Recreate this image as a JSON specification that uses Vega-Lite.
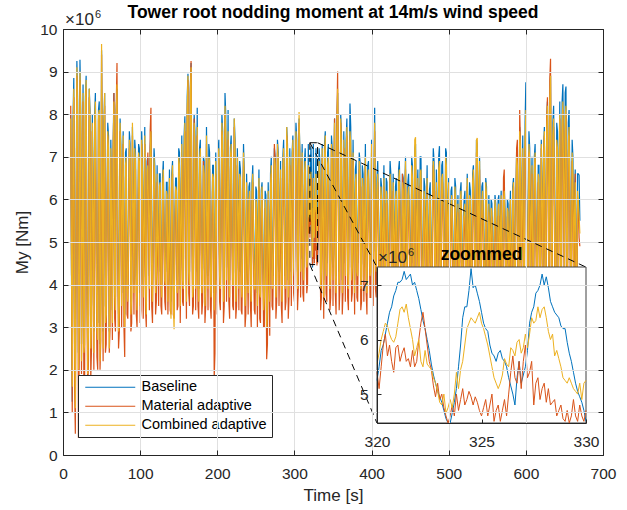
{
"$schema": "https://vega.github.io/schema/vega-lite/v6.json",
"width": 540, "height": 426,
"autosize": {"type": "none"},
"padding": {"left": 63, "top": 29, "right": 24, "bottom": 55},
"background": "white",
"config": {"font": "Liberation Sans", "view": {"stroke": null}},
"title": {"text": "Tower root nodding moment at 14m/s wind speed", "fontSize": 17.5, "fontWeight": "bold", "color": "#000000", "anchor": "middle", "frame": "group", "offset": -12},
"datasets": {
"ts": [
{"t":10,"b":8.0,"m":8.2,"c":7.9},{"t":11,"b":4.2,"m":4.6,"c":4.5},{"t":12,"b":1.25,"m":1.0,"c":1.6},{"t":13,"b":7.9,"m":7.2,"c":7.6},{"t":14,"b":8.85,"m":8.4,"c":8.6},{"t":15,"b":3.0,"m":1.6,"c":2.6},{"t":16,"b":1.8,"m":0.5,"c":1.1},{"t":17,"b":5.8,"m":4.8,"c":5.4},{"t":18,"b":9.25,"m":8.9,"c":9.1},{"t":19,"b":8.3,"m":7.7,"c":8.0},
{"t":20,"b":2.4,"m":0.4,"c":2.0},{"t":21,"b":3.4,"m":2.2,"c":3.0},{"t":22,"b":9.28,"m":8.8,"c":9.0},{"t":23,"b":8.1,"m":7.5,"c":7.8},{"t":24,"b":2.6,"m":1.9,"c":2.2},{"t":25,"b":5.6,"m":4.6,"c":5.2},{"t":26,"b":8.7,"m":8.3,"c":8.5},{"t":27,"b":2.8,"m":1.7,"c":2.4},{"t":28,"b":3.0,"m":1.5,"c":2.6},{"t":29,"b":8.4,"m":7.9,"c":8.2},
{"t":30,"b":8.9,"m":8.6,"c":8.8},{"t":31,"b":5.0,"m":3.9,"c":4.6},{"t":32,"b":2.3,"m":1.4,"c":1.9},{"t":33,"b":3.3,"m":2.2,"c":2.9},{"t":34,"b":8.6,"m":8.4,"c":8.6},{"t":35,"b":8.1,"m":7.6,"c":7.9},{"t":36,"b":2.8,"m":1.8,"c":2.5},{"t":37,"b":3.6,"m":2.5,"c":3.2},{"t":38,"b":8.0,"m":7.6,"c":7.8},{"t":39,"b":6.1,"m":5.3,"c":5.8},
{"t":40,"b":2.9,"m":2.0,"c":2.4},{"t":41,"b":8.0,"m":7.4,"c":7.7},{"t":42,"b":8.5,"m":8.0,"c":8.3},{"t":43,"b":5.4,"m":4.4,"c":5.0},{"t":44,"b":3.3,"m":2.3,"c":3.0},{"t":45,"b":3.1,"m":2.0,"c":2.7},{"t":46,"b":8.1,"m":7.9,"c":8.0},{"t":47,"b":8.3,"m":7.8,"c":8.1},{"t":48,"b":2.6,"m":2.0,"c":2.2},{"t":49,"b":3.8,"m":2.7,"c":3.4},
{"t":50,"b":9.5,"m":9.4,"c":9.65},{"t":51,"b":6.5,"m":5.7,"c":6.2},{"t":52,"b":2.9,"m":2.2,"c":2.5},{"t":53,"b":7.8,"m":7.3,"c":7.6},{"t":54,"b":8.5,"m":8.2,"c":8.5},{"t":55,"b":3.5,"m":2.4,"c":3.1},{"t":56,"b":3.5,"m":2.6,"c":3.3},{"t":57,"b":5.8,"m":5.0,"c":5.5},{"t":58,"b":7.8,"m":7.5,"c":7.6},{"t":59,"b":7.5,"m":6.9,"c":7.2},
{"t":60,"b":2.9,"m":2.4,"c":2.5},{"t":61,"b":4.0,"m":3.0,"c":3.6},{"t":62,"b":7.4,"m":7.0,"c":7.2},{"t":63,"b":5.9,"m":5.1,"c":5.6},{"t":64,"b":3.4,"m":2.7,"c":3.1},{"t":65,"b":7.3,"m":6.9,"c":7.1},{"t":66,"b":8.5,"m":8.5,"c":8.3},{"t":67,"b":4.1,"m":3.2,"c":3.8},{"t":68,"b":3.7,"m":2.9,"c":3.4},{"t":69,"b":8.1,"m":8.2,"c":7.9},
{"t":70,"b":8.6,"m":9.2,"c":8.7},{"t":71,"b":5.5,"m":4.6,"c":5.2},{"t":72,"b":3.3,"m":2.5,"c":2.9},{"t":73,"b":3.9,"m":2.9,"c":3.5},{"t":74,"b":7.9,"m":7.6,"c":7.8},{"t":75,"b":7.3,"m":6.7,"c":7.0},{"t":76,"b":3.8,"m":3.0,"c":3.5},{"t":77,"b":6.2,"m":5.4,"c":5.9},{"t":78,"b":7.6,"m":7.3,"c":7.5},{"t":79,"b":4.0,"m":3.0,"c":3.6},
{"t":80,"b":3.3,"m":2.3,"c":3.0},{"t":81,"b":7.1,"m":6.5,"c":6.8},{"t":82,"b":7.2,"m":6.8,"c":7.0},{"t":83,"b":4.2,"m":3.3,"c":3.9},{"t":84,"b":3.9,"m":3.2,"c":3.6},{"t":85,"b":5.7,"m":4.9,"c":5.4},{"t":86,"b":7.6,"m":7.2,"c":7.4},{"t":87,"b":7.3,"m":6.8,"c":7.1},{"t":88,"b":3.6,"m":2.9,"c":3.3},{"t":89,"b":4.1,"m":3.1,"c":3.7},
{"t":90,"b":7.7,"m":7.5,"c":7.8},{"t":91,"b":6.3,"m":5.5,"c":6.0},{"t":92,"b":4.0,"m":3.3,"c":3.8},{"t":93,"b":7.4,"m":6.9,"c":7.2},{"t":94,"b":7.1,"m":6.7,"c":6.9},{"t":95,"b":4.2,"m":3.3,"c":3.9},{"t":96,"b":3.7,"m":3.0,"c":3.4},{"t":97,"b":5.5,"m":4.6,"c":5.1},{"t":98,"b":7.3,"m":6.9,"c":7.1},{"t":99,"b":7.2,"m":6.6,"c":6.9},
{"t":100,"b":3.8,"m":3.1,"c":3.5},{"t":101,"b":4.3,"m":3.4,"c":4.0},{"t":102,"b":7.6,"m":7.3,"c":7.4},{"t":103,"b":6.9,"m":6.3,"c":6.6},{"t":104,"b":4.0,"m":3.2,"c":3.7},{"t":105,"b":5.6,"m":4.8,"c":5.3},{"t":106,"b":7.7,"m":7.3,"c":7.5},{"t":107,"b":4.2,"m":3.4,"c":3.9},{"t":108,"b":3.6,"m":3.0,"c":3.3},{"t":109,"b":6.9,"m":6.5,"c":6.7},
{"t":110,"b":7.0,"m":7.1,"c":6.8},{"t":111,"b":5.9,"m":5.1,"c":5.6},{"t":112,"b":4.2,"m":3.4,"c":3.9},{"t":113,"b":7.2,"m":7.6,"c":7.0},{"t":114,"b":7.6,"m":8.15,"c":7.6},{"t":115,"b":4.4,"m":3.5,"c":4.1},{"t":116,"b":3.9,"m":3.1,"c":3.6},{"t":117,"b":5.8,"m":5.0,"c":5.5},{"t":118,"b":7.2,"m":6.8,"c":7.0},{"t":119,"b":6.8,"m":6.2,"c":6.5},
{"t":120,"b":4.1,"m":3.3,"c":3.8},{"t":121,"b":4.5,"m":3.6,"c":4.2},{"t":122,"b":6.8,"m":6.4,"c":6.6},{"t":123,"b":5.3,"m":4.5,"c":5.0},{"t":124,"b":4.3,"m":3.5,"c":4.0},{"t":125,"b":6.6,"m":6.0,"c":6.3},{"t":126,"b":6.6,"m":6.2,"c":6.4},{"t":127,"b":4.4,"m":3.5,"c":4.1},{"t":128,"b":4.0,"m":3.3,"c":3.7},{"t":129,"b":6.5,"m":5.9,"c":6.2},
{"t":130,"b":6.9,"m":6.5,"c":6.7},{"t":131,"b":5.5,"m":4.7,"c":5.2},{"t":132,"b":4.4,"m":3.6,"c":4.1},{"t":133,"b":4.3,"m":3.4,"c":4.0},{"t":134,"b":6.4,"m":6.0,"c":6.2},{"t":135,"b":6.4,"m":5.8,"c":6.1},{"t":136,"b":3.9,"m":3.3,"c":3.6},{"t":137,"b":5.2,"m":4.4,"c":4.9},{"t":138,"b":6.7,"m":6.3,"c":6.5},{"t":139,"b":4.1,"m":3.4,"c":3.7},
{"t":140,"b":3.6,"m":3.3,"c":3.2},{"t":141,"b":6.6,"m":6.1,"c":6.4},{"t":142,"b":6.9,"m":6.6,"c":6.8},{"t":143,"b":4.0,"m":3.3,"c":3.6},{"t":144,"b":3.5,"m":3.2,"c":2.95},{"t":145,"b":5.6,"m":4.8,"c":5.3},{"t":146,"b":6.5,"m":6.1,"c":6.3},{"t":147,"b":6.5,"m":5.9,"c":6.2},{"t":148,"b":4.1,"m":3.4,"c":3.8},{"t":149,"b":4.3,"m":3.5,"c":4.0},
{"t":150,"b":7.2,"m":6.8,"c":7.0},{"t":151,"b":7.1,"m":6.5,"c":6.8},{"t":152,"b":3.9,"m":3.1,"c":3.5},{"t":153,"b":5.7,"m":4.9,"c":5.4},{"t":154,"b":7.5,"m":7.0,"c":7.3},{"t":155,"b":4.4,"m":3.6,"c":4.1},{"t":156,"b":4.2,"m":3.5,"c":3.9},{"t":157,"b":7.5,"m":6.9,"c":7.2},{"t":158,"b":7.95,"m":7.6,"c":7.8},{"t":159,"b":6.1,"m":5.3,"c":5.8},
{"t":160,"b":4.0,"m":3.2,"c":3.6},{"t":161,"b":8.4,"m":7.9,"c":8.1},{"t":162,"b":8.95,"m":8.8,"c":8.9},{"t":163,"b":4.6,"m":3.8,"c":4.3},{"t":164,"b":4.3,"m":3.5,"c":4.0},{"t":165,"b":8.6,"m":8.5,"c":8.4},{"t":166,"b":9.2,"m":9.25,"c":9.1},{"t":167,"b":6.3,"m":5.5,"c":6.0},{"t":168,"b":4.0,"m":3.3,"c":3.7},{"t":169,"b":4.3,"m":3.5,"c":4.0},
{"t":170,"b":8.0,"m":7.9,"c":7.8},{"t":171,"b":7.6,"m":7.0,"c":7.3},{"t":172,"b":4.3,"m":3.4,"c":3.9},{"t":173,"b":5.8,"m":5.0,"c":5.5},{"t":174,"b":8.15,"m":7.5,"c":7.7},{"t":175,"b":4.3,"m":3.5,"c":4.0},{"t":176,"b":3.9,"m":3.2,"c":3.6},{"t":177,"b":7.2,"m":6.6,"c":6.9},{"t":178,"b":7.4,"m":7.0,"c":7.2},{"t":179,"b":5.6,"m":4.8,"c":5.3},
{"t":180,"b":4.1,"m":3.3,"c":3.8},{"t":181,"b":4.4,"m":3.6,"c":4.1},{"t":182,"b":7.0,"m":6.9,"c":6.8},{"t":183,"b":6.9,"m":6.3,"c":6.6},{"t":184,"b":3.8,"m":3.1,"c":3.5},{"t":185,"b":4.3,"m":3.5,"c":4.0},{"t":186,"b":7.7,"m":7.3,"c":7.5},{"t":187,"b":6.0,"m":5.2,"c":5.7},{"t":188,"b":4.2,"m":3.4,"c":3.9},{"t":189,"b":7.3,"m":6.7,"c":7.0},
{"t":190,"b":7.1,"m":6.7,"c":6.9},{"t":191,"b":4.4,"m":3.5,"c":4.1},{"t":192,"b":4.0,"m":3.2,"c":3.7},{"t":193,"b":5.5,"m":4.7,"c":5.2},{"t":194,"b":6.8,"m":6.4,"c":6.6},{"t":195,"b":6.8,"m":6.2,"c":6.5},{"t":196,"b":3.8,"m":1.8,"c":3.4},{"t":197,"b":4.4,"m":2.4,"c":4.0},{"t":198,"b":7.1,"m":6.6,"c":6.9},{"t":199,"b":5.9,"m":5.0,"c":5.6},
{"t":200,"b":4.1,"m":3.3,"c":3.8},{"t":201,"b":7.1,"m":6.6,"c":6.9},{"t":202,"b":7.4,"m":7.0,"c":7.2},{"t":203,"b":4.5,"m":3.6,"c":4.2},{"t":204,"b":4.2,"m":3.4,"c":3.9},{"t":205,"b":6.2,"m":5.4,"c":5.9},{"t":206,"b":8.0,"m":7.6,"c":7.8},{"t":207,"b":7.6,"m":7.0,"c":7.3},{"t":208,"b":4.0,"m":3.1,"c":3.6},{"t":209,"b":4.4,"m":3.5,"c":4.1},
{"t":210,"b":8.5,"m":8.0,"c":8.2},{"t":211,"b":8.0,"m":7.3,"c":7.6},{"t":212,"b":4.4,"m":3.6,"c":4.1},{"t":213,"b":5.9,"m":5.1,"c":5.6},{"t":214,"b":8.1,"m":7.4,"c":7.6},{"t":215,"b":4.5,"m":3.6,"c":4.2},{"t":216,"b":4.1,"m":3.2,"c":3.7},{"t":217,"b":7.2,"m":6.7,"c":7.0},{"t":218,"b":7.5,"m":7.1,"c":7.3},{"t":219,"b":5.8,"m":5.0,"c":5.5},
{"t":220,"b":4.3,"m":3.5,"c":4.0},{"t":221,"b":4.3,"m":3.4,"c":4.0},{"t":222,"b":7.9,"m":7.7,"c":7.9},{"t":223,"b":7.4,"m":6.8,"c":7.1},{"t":224,"b":4.0,"m":3.2,"c":3.6},{"t":225,"b":4.4,"m":3.5,"c":4.1},{"t":226,"b":7.2,"m":6.8,"c":7.0},{"t":227,"b":6.1,"m":5.3,"c":5.8},{"t":228,"b":4.3,"m":3.4,"c":3.9},{"t":229,"b":6.9,"m":6.3,"c":6.6},
{"t":230,"b":6.7,"m":6.3,"c":6.5},{"t":231,"b":4.3,"m":3.4,"c":4.0},{"t":232,"b":4.0,"m":3.3,"c":3.7},{"t":233,"b":5.7,"m":4.9,"c":5.4},{"t":234,"b":7.3,"m":6.9,"c":7.1},{"t":235,"b":6.6,"m":6.0,"c":6.3},{"t":236,"b":3.9,"m":3.0,"c":3.5},{"t":237,"b":4.2,"m":3.3,"c":3.9},{"t":238,"b":6.6,"m":6.2,"c":6.4},{"t":239,"b":5.4,"m":4.6,"c":5.1},
{"t":240,"b":4.1,"m":3.3,"c":3.8},{"t":241,"b":6.3,"m":5.7,"c":6.0},{"t":242,"b":6.4,"m":6.0,"c":6.2},{"t":243,"b":4.4,"m":3.5,"c":4.1},{"t":244,"b":3.9,"m":3.0,"c":3.6},{"t":245,"b":6.4,"m":5.9,"c":6.2},{"t":246,"b":6.8,"m":6.4,"c":6.6},{"t":247,"b":5.3,"m":4.5,"c":5.0},{"t":248,"b":4.2,"m":3.4,"c":3.9},{"t":249,"b":4.2,"m":3.3,"c":3.9},
{"t":250,"b":6.3,"m":5.8,"c":6.0},{"t":251,"b":6.2,"m":5.6,"c":5.9},{"t":252,"b":3.8,"m":3.0,"c":3.5},{"t":253,"b":5.5,"m":4.7,"c":5.2},{"t":254,"b":6.7,"m":6.3,"c":6.5},{"t":255,"b":4.1,"m":3.2,"c":3.8},{"t":256,"b":4.0,"m":3.1,"c":3.7},{"t":257,"b":6.2,"m":5.7,"c":6.0},{"t":258,"b":6.4,"m":6.1,"c":6.3},{"t":259,"b":5.2,"m":4.4,"c":4.9},
{"t":260,"b":3.8,"m":3.0,"c":3.4},{"t":261,"b":4.1,"m":3.0,"c":3.7},{"t":262,"b":6.2,"m":5.8,"c":6.0},{"t":263,"b":6.1,"m":5.5,"c":5.8},{"t":264,"b":3.5,"m":2.25,"c":3.0},{"t":265,"b":4.0,"m":2.6,"c":3.6},{"t":266,"b":6.4,"m":6.0,"c":6.2},{"t":267,"b":5.3,"m":4.3,"c":5.0},{"t":268,"b":3.9,"m":2.8,"c":3.6},{"t":269,"b":6.6,"m":6.0,"c":6.3},
{"t":270,"b":7.0,"m":6.6,"c":6.8},{"t":271,"b":4.4,"m":3.5,"c":4.1},{"t":272,"b":4.2,"m":3.4,"c":3.9},{"t":273,"b":5.9,"m":5.1,"c":5.6},{"t":274,"b":7.2,"m":7.3,"c":7.0},{"t":275,"b":7.0,"m":6.9,"c":6.8},{"t":276,"b":4.0,"m":3.2,"c":3.7},{"t":277,"b":4.5,"m":3.6,"c":4.2},{"t":278,"b":7.4,"m":7.1,"c":7.3},{"t":279,"b":7.1,"m":6.6,"c":6.9},
{"t":280,"b":4.3,"m":3.5,"c":4.0},{"t":281,"b":5.7,"m":4.9,"c":5.4},{"t":282,"b":6.9,"m":6.5,"c":6.7},{"t":283,"b":4.4,"m":3.5,"c":4.1},{"t":284,"b":4.0,"m":3.1,"c":3.6},{"t":285,"b":7.0,"m":6.4,"c":6.7},{"t":286,"b":7.4,"m":7.0,"c":7.2},{"t":287,"b":6.1,"m":5.3,"c":5.8},{"t":288,"b":4.2,"m":3.4,"c":3.9},{"t":289,"b":4.5,"m":3.6,"c":4.2},
{"t":290,"b":7.7,"m":7.5,"c":7.7},{"t":291,"b":7.3,"m":6.8,"c":7.1},{"t":292,"b":4.1,"m":3.2,"c":3.7},{"t":293,"b":4.6,"m":3.7,"c":4.3},{"t":294,"b":7.2,"m":6.8,"c":7.0},{"t":295,"b":6.0,"m":5.2,"c":5.7},{"t":296,"b":4.3,"m":3.5,"c":4.0},{"t":297,"b":7.1,"m":6.6,"c":6.9},{"t":298,"b":7.5,"m":7.2,"c":7.4},{"t":299,"b":4.7,"m":3.8,"c":4.4},
{"t":300,"b":4.5,"m":3.6,"c":4.2},{"t":301,"b":6.3,"m":5.5,"c":6.0},{"t":302,"b":7.8,"m":7.4,"c":7.6},{"t":303,"b":7.4,"m":6.8,"c":7.1},{"t":304,"b":4.3,"m":3.4,"c":3.9},{"t":305,"b":4.8,"m":3.9,"c":4.5},{"t":306,"b":7.9,"m":7.8,"c":8.05},{"t":307,"b":7.2,"m":6.8,"c":7.0},{"t":308,"b":4.6,"m":3.7,"c":4.3},{"t":309,"b":6.0,"m":5.2,"c":5.7},
{"t":310,"b":7.3,"m":6.9,"c":7.1},{"t":311,"b":4.7,"m":3.8,"c":4.4},{"t":312,"b":4.4,"m":3.6,"c":4.1},{"t":313,"b":6.9,"m":6.3,"c":6.6},{"t":314,"b":7.2,"m":6.7,"c":6.9},{"t":315,"b":5.8,"m":5.0,"c":5.5},{"t":316,"b":4.7,"m":3.8,"c":4.4},{"t":317,"b":4.9,"m":4.0,"c":4.6},{"t":318,"b":7.3,"m":6.5,"c":6.8},{"t":319,"b":5.9,"m":5.2,"c":5.6},
{"t":320.0,"b":5.25,"m":5.4,"c":5.55},{"t":320.1,"b":5.5,"m":5.1,"c":5.75},{"t":320.2,"b":5.8,"m":5.5,"c":6.0},{"t":320.3,"b":5.9,"m":5.9,"c":6.15},{"t":320.4,"b":6.1,"m":6.1,"c":6.3},{"t":320.5,"b":6.3,"m":5.7,"c":6.25},{"t":320.6,"b":6.5,"m":5.9,"c":6.1},{"t":320.7,"b":6.6,"m":5.6,"c":6.0},{"t":320.8,"b":6.8,"m":5.4,"c":5.95},{"t":320.9,"b":6.9,"m":5.85,"c":6.05},
{"t":321.0,"b":7.05,"m":5.9,"c":6.3},{"t":321.1,"b":7.05,"m":5.6,"c":6.55},{"t":321.2,"b":7.1,"m":5.75,"c":6.6},{"t":321.3,"b":7.25,"m":5.85,"c":6.5},{"t":321.4,"b":7.1,"m":5.6,"c":6.65},{"t":321.5,"b":7.15,"m":5.65,"c":6.4},{"t":321.6,"b":7.2,"m":5.5,"c":6.2},{"t":321.7,"b":7.0,"m":5.8,"c":6.0},{"t":321.8,"b":7.05,"m":5.5,"c":5.7},{"t":321.9,"b":6.9,"m":5.6,"c":5.85},
{"t":322.0,"b":6.75,"m":6.0,"c":6.0},{"t":322.1,"b":6.55,"m":6.3,"c":5.6},{"t":322.2,"b":6.35,"m":6.5,"c":5.5},{"t":322.3,"b":6.2,"m":6.2,"c":5.8},{"t":322.4,"b":6.0,"m":5.9,"c":5.55},{"t":322.5,"b":5.8,"m":5.6,"c":5.5},{"t":322.6,"b":5.55,"m":5.45,"c":5.45},{"t":322.7,"b":5.35,"m":5.15,"c":5.3},{"t":322.8,"b":5.2,"m":4.95,"c":5.2},{"t":322.9,"b":5.05,"m":5.2,"c":5.05},
{"t":323.0,"b":4.95,"m":4.9,"c":4.85},{"t":323.1,"b":4.85,"m":5.0,"c":4.8},{"t":323.2,"b":4.7,"m":4.75,"c":5.0},{"t":323.3,"b":4.55,"m":4.6,"c":4.65},{"t":323.4,"b":4.4,"m":4.45,"c":4.75},{"t":323.5,"b":4.45,"m":4.6,"c":4.9},{"t":323.6,"b":4.65,"m":4.8,"c":4.75},{"t":323.7,"b":4.85,"m":4.6,"c":5.0},{"t":323.8,"b":5.1,"m":5.0,"c":5.4},{"t":323.9,"b":5.5,"m":4.7,"c":5.1},
{"t":324.0,"b":5.9,"m":4.9,"c":5.45},{"t":324.1,"b":6.4,"m":5.1,"c":5.6},{"t":324.2,"b":6.6,"m":4.8,"c":5.9},{"t":324.3,"b":6.6,"m":4.9,"c":6.2},{"t":324.4,"b":6.9,"m":5.05,"c":6.3},{"t":324.5,"b":7.3,"m":4.95,"c":6.4},{"t":324.6,"b":6.95,"m":4.8,"c":6.35},{"t":324.7,"b":7.0,"m":4.95,"c":6.3},{"t":324.8,"b":6.85,"m":4.85,"c":6.4},{"t":324.9,"b":6.7,"m":4.7,"c":6.5},
{"t":325.0,"b":6.5,"m":4.6,"c":6.3},{"t":325.1,"b":6.3,"m":4.75,"c":6.2},{"t":325.2,"b":6.2,"m":4.9,"c":6.05},{"t":325.3,"b":6.15,"m":4.6,"c":5.9},{"t":325.4,"b":5.9,"m":4.8,"c":5.7},{"t":325.5,"b":5.75,"m":5.0,"c":5.5},{"t":325.6,"b":5.7,"m":4.5,"c":5.3},{"t":325.7,"b":5.6,"m":4.7,"c":5.2},{"t":325.8,"b":5.75,"m":4.8,"c":5.1},{"t":325.9,"b":5.8,"m":4.5,"c":5.2},
{"t":326.0,"b":5.65,"m":4.7,"c":5.35},{"t":326.1,"b":5.6,"m":4.9,"c":5.65},{"t":326.2,"b":5.5,"m":4.6,"c":5.55},{"t":326.3,"b":5.3,"m":5.0,"c":5.5},{"t":326.4,"b":5.15,"m":5.4,"c":5.85},{"t":326.5,"b":5.0,"m":5.7,"c":5.8},{"t":326.6,"b":4.8,"m":5.3,"c":5.7},{"t":326.7,"b":5.3,"m":5.2,"c":5.95},{"t":326.8,"b":5.6,"m":5.6,"c":6.0},{"t":326.9,"b":5.2,"m":5.1,"c":5.75},
{"t":327.0,"b":5.35,"m":5.6,"c":5.85},{"t":327.1,"b":5.5,"m":5.9,"c":6.1},{"t":327.2,"b":5.8,"m":5.3,"c":5.85},{"t":327.3,"b":6.3,"m":5.4,"c":6.1},{"t":327.4,"b":6.5,"m":5.6,"c":6.4},{"t":327.5,"b":6.6,"m":4.8,"c":6.3},{"t":327.6,"b":6.85,"m":5.2,"c":6.35},{"t":327.7,"b":6.9,"m":5.3,"c":6.6},{"t":327.8,"b":7.0,"m":4.9,"c":6.4},{"t":327.9,"b":7.2,"m":5.1,"c":6.55},
{"t":328.0,"b":7.0,"m":5.2,"c":6.6},{"t":328.1,"b":7.15,"m":4.85,"c":6.4},{"t":328.2,"b":6.95,"m":5.1,"c":6.15},{"t":328.3,"b":6.7,"m":4.8,"c":6.0},{"t":328.4,"b":6.6,"m":4.85,"c":6.1},{"t":328.5,"b":6.5,"m":4.9,"c":5.7},{"t":328.6,"b":6.45,"m":4.6,"c":5.8},{"t":328.7,"b":6.4,"m":4.7,"c":5.65},{"t":328.8,"b":6.25,"m":4.8,"c":5.5},{"t":328.9,"b":6.2,"m":4.55,"c":5.3},
{"t":329.0,"b":6.2,"m":4.5,"c":5.25},{"t":329.1,"b":5.95,"m":4.7,"c":5.2},{"t":329.2,"b":5.75,"m":4.45,"c":5.3},{"t":329.3,"b":5.6,"m":4.6,"c":5.2},{"t":329.4,"b":5.4,"m":4.9,"c":5.1},{"t":329.5,"b":5.2,"m":4.6,"c":5.05},{"t":329.6,"b":5.05,"m":4.5,"c":5.0},{"t":329.7,"b":4.95,"m":4.8,"c":5.2},{"t":329.8,"b":4.85,"m":4.6,"c":4.9},{"t":329.9,"b":4.7,"m":4.5,"c":5.2},
{"t":330.0,"b":4.5,"m":4.7,"c":5.25},
{"t":331,"b":6.1,"m":5.2,"c":5.8},{"t":332,"b":7.2,"m":6.6,"c":6.9},{"t":333,"b":6.9,"m":6.3,"c":6.6},{"t":334,"b":4.3,"m":3.4,"c":3.9},{"t":335,"b":4.6,"m":3.7,"c":4.3},{"t":336,"b":7.3,"m":7.0,"c":7.2},{"t":337,"b":5.9,"m":5.1,"c":5.6},{"t":338,"b":4.1,"m":3.2,"c":3.7},{"t":339,"b":7.3,"m":6.7,"c":7.0},
{"t":340,"b":7.6,"m":7.3,"c":7.5},{"t":341,"b":4.7,"m":3.8,"c":4.4},{"t":342,"b":4.5,"m":3.6,"c":4.2},{"t":343,"b":7.1,"m":6.5,"c":6.8},{"t":344,"b":7.3,"m":6.8,"c":7.0},{"t":345,"b":5.8,"m":5.0,"c":5.5},{"t":346,"b":4.2,"m":3.4,"c":3.9},{"t":347,"b":4.6,"m":3.7,"c":4.3},{"t":348,"b":7.5,"m":7.2,"c":7.3},{"t":349,"b":7.2,"m":6.8,"c":7.0},
{"t":350,"b":4.4,"m":3.5,"c":4.1},{"t":351,"b":6.3,"m":5.6,"c":6.0},{"t":352,"b":7.9,"m":7.9,"c":7.8},{"t":353,"b":4.7,"m":3.8,"c":4.4},{"t":354,"b":4.2,"m":3.3,"c":3.8},{"t":355,"b":7.7,"m":7.8,"c":7.5},{"t":356,"b":8.5,"m":9.0,"c":8.6},{"t":357,"b":6.3,"m":5.5,"c":6.0},{"t":358,"b":4.3,"m":3.4,"c":4.0},{"t":359,"b":4.8,"m":3.9,"c":4.5},
{"t":360,"b":8.0,"m":7.8,"c":7.9},{"t":361,"b":7.5,"m":6.9,"c":7.2},{"t":362,"b":4.1,"m":3.3,"c":3.8},{"t":363,"b":4.7,"m":3.8,"c":4.4},{"t":364,"b":7.6,"m":7.2,"c":7.4},{"t":365,"b":6.2,"m":5.4,"c":5.9},{"t":366,"b":4.5,"m":3.6,"c":4.2},{"t":367,"b":7.4,"m":6.8,"c":7.1},{"t":368,"b":7.9,"m":7.5,"c":7.7},{"t":369,"b":4.6,"m":3.7,"c":4.3},
{"t":370,"b":4.2,"m":3.4,"c":3.9},{"t":371,"b":6.5,"m":5.7,"c":6.2},{"t":372,"b":8.25,"m":7.4,"c":7.6},{"t":373,"b":7.7,"m":7.0,"c":7.3},{"t":374,"b":4.4,"m":3.6,"c":4.1},{"t":375,"b":4.7,"m":3.8,"c":4.4},{"t":376,"b":7.4,"m":6.9,"c":7.1},{"t":377,"b":5.9,"m":5.1,"c":5.6},{"t":378,"b":4.1,"m":3.3,"c":3.8},{"t":379,"b":6.7,"m":6.1,"c":6.4},
{"t":380,"b":6.9,"m":6.4,"c":6.6},{"t":381,"b":4.6,"m":3.7,"c":4.3},{"t":382,"b":4.5,"m":3.6,"c":4.2},{"t":383,"b":6.0,"m":5.2,"c":5.7},{"t":384,"b":7.1,"m":6.7,"c":6.9},{"t":385,"b":6.9,"m":6.3,"c":6.6},{"t":386,"b":4.2,"m":3.4,"c":3.9},{"t":387,"b":4.5,"m":3.6,"c":4.2},{"t":388,"b":6.8,"m":6.3,"c":6.5},{"t":389,"b":6.6,"m":6.0,"c":6.3},
{"t":390,"b":4.4,"m":3.6,"c":4.1},{"t":391,"b":5.9,"m":5.1,"c":5.6},{"t":392,"b":7.3,"m":6.8,"c":7.0},{"t":393,"b":4.7,"m":3.8,"c":4.4},{"t":394,"b":4.1,"m":3.3,"c":3.8},{"t":395,"b":6.8,"m":6.2,"c":6.5},{"t":396,"b":6.9,"m":6.5,"c":6.7},{"t":397,"b":5.7,"m":4.9,"c":5.4},{"t":398,"b":4.5,"m":3.7,"c":4.2},{"t":399,"b":4.6,"m":3.7,"c":4.3},
{"t":400,"b":7.4,"m":7.1,"c":7.3},{"t":401,"b":7.2,"m":6.6,"c":6.9},{"t":402,"b":4.3,"m":3.5,"c":4.0},{"t":403,"b":6.4,"m":5.6,"c":6.1},{"t":404,"b":8.15,"m":7.6,"c":7.8},{"t":405,"b":4.8,"m":3.9,"c":4.5},{"t":406,"b":4.6,"m":3.7,"c":4.3},{"t":407,"b":6.5,"m":5.9,"c":6.2},{"t":408,"b":6.9,"m":6.4,"c":6.6},{"t":409,"b":5.7,"m":4.9,"c":5.4},
{"t":410,"b":4.3,"m":3.5,"c":4.0},{"t":411,"b":4.5,"m":3.6,"c":4.2},{"t":412,"b":6.5,"m":6.1,"c":6.3},{"t":413,"b":6.3,"m":5.7,"c":6.0},{"t":414,"b":4.2,"m":3.4,"c":3.9},{"t":415,"b":5.6,"m":4.8,"c":5.3},{"t":416,"b":6.8,"m":6.3,"c":6.5},{"t":417,"b":4.6,"m":3.7,"c":4.3},{"t":418,"b":4.5,"m":3.6,"c":4.2},{"t":419,"b":6.5,"m":5.9,"c":6.2},
{"t":420,"b":6.4,"m":5.9,"c":6.1},{"t":421,"b":4.4,"m":3.5,"c":4.1},{"t":422,"b":4.2,"m":3.3,"c":3.9},{"t":423,"b":5.8,"m":5.0,"c":5.5},{"t":424,"b":6.9,"m":6.5,"c":6.6},{"t":425,"b":6.6,"m":6.0,"c":6.3},{"t":426,"b":4.4,"m":3.5,"c":4.1},{"t":427,"b":4.5,"m":3.6,"c":4.2},{"t":428,"b":6.6,"m":6.2,"c":6.4},{"t":429,"b":5.5,"m":4.7,"c":5.2},
{"t":430,"b":4.1,"m":3.3,"c":3.8},{"t":431,"b":6.3,"m":5.7,"c":6.0},{"t":432,"b":6.5,"m":6.0,"c":6.2},{"t":433,"b":4.6,"m":3.7,"c":4.3},{"t":434,"b":4.3,"m":3.5,"c":4.0},{"t":435,"b":6.7,"m":6.1,"c":6.4},{"t":436,"b":6.9,"m":6.5,"c":6.7},{"t":437,"b":5.9,"m":5.1,"c":5.6},{"t":438,"b":4.5,"m":3.6,"c":4.2},{"t":439,"b":4.4,"m":3.5,"c":4.1},
{"t":440,"b":6.6,"m":6.6,"c":6.4},{"t":441,"b":6.5,"m":6.3,"c":6.2},{"t":442,"b":4.2,"m":3.4,"c":3.9},{"t":443,"b":6.1,"m":5.3,"c":5.8},{"t":444,"b":7.0,"m":6.7,"c":6.9},{"t":445,"b":4.6,"m":3.7,"c":4.3},{"t":446,"b":4.4,"m":3.5,"c":4.1},{"t":447,"b":6.4,"m":5.8,"c":6.1},{"t":448,"b":6.6,"m":6.1,"c":6.3},{"t":449,"b":5.6,"m":4.8,"c":5.3},
{"t":450,"b":4.3,"m":3.4,"c":4.0},{"t":451,"b":4.5,"m":3.6,"c":4.2},{"t":452,"b":7.0,"m":6.6,"c":6.8},{"t":453,"b":6.8,"m":6.2,"c":6.5},{"t":454,"b":4.5,"m":3.6,"c":4.2},{"t":455,"b":4.7,"m":3.8,"c":4.4},{"t":456,"b":7.2,"m":7.0,"c":7.4},{"t":457,"b":7.3,"m":7.0,"c":7.46},{"t":458,"b":4.2,"m":3.4,"c":3.9},{"t":459,"b":5.8,"m":5.0,"c":5.5},
{"t":460,"b":6.7,"m":6.3,"c":6.5},{"t":461,"b":4.5,"m":3.6,"c":4.2},{"t":462,"b":4.4,"m":3.5,"c":4.1},{"t":463,"b":7.0,"m":6.3,"c":6.6},{"t":464,"b":7.0,"m":6.5,"c":6.7},{"t":465,"b":5.6,"m":4.8,"c":5.3},{"t":466,"b":4.2,"m":3.3,"c":3.8},{"t":467,"b":4.4,"m":3.5,"c":4.1},{"t":468,"b":6.5,"m":6.0,"c":6.2},{"t":469,"b":6.3,"m":5.7,"c":6.0},
{"t":470,"b":4.3,"m":3.4,"c":4.0},{"t":471,"b":5.7,"m":4.9,"c":5.4},{"t":472,"b":6.8,"m":6.3,"c":6.5},{"t":473,"b":4.6,"m":3.7,"c":4.3},{"t":474,"b":4.5,"m":3.6,"c":4.2},{"t":475,"b":6.2,"m":5.6,"c":5.9},{"t":476,"b":6.4,"m":5.9,"c":6.1},{"t":477,"b":4.4,"m":3.5,"c":4.1},{"t":478,"b":4.2,"m":3.3,"c":3.9},{"t":479,"b":6.1,"m":5.3,"c":5.8},
{"t":480,"b":7.2,"m":6.8,"c":6.9},{"t":481,"b":6.9,"m":6.3,"c":6.6},{"t":482,"b":4.4,"m":3.5,"c":4.1},{"t":483,"b":4.5,"m":3.6,"c":4.2},{"t":484,"b":6.7,"m":6.2,"c":6.4},{"t":485,"b":5.7,"m":4.9,"c":5.4},{"t":486,"b":4.1,"m":3.3,"c":3.8},{"t":487,"b":7.0,"m":6.4,"c":6.7},{"t":488,"b":7.25,"m":6.7,"c":6.9},{"t":489,"b":4.6,"m":3.7,"c":4.3},
{"t":490,"b":4.3,"m":3.4,"c":4.0},{"t":491,"b":6.8,"m":6.2,"c":6.5},{"t":492,"b":6.9,"m":6.4,"c":6.6},{"t":493,"b":5.9,"m":5.1,"c":5.6},{"t":494,"b":4.5,"m":3.6,"c":4.2},{"t":495,"b":4.7,"m":3.8,"c":4.4},{"t":496,"b":7.2,"m":6.8,"c":7.0},{"t":497,"b":7.1,"m":6.5,"c":6.8},{"t":498,"b":4.2,"m":3.3,"c":3.9},{"t":499,"b":5.9,"m":5.1,"c":5.6},
{"t":500,"b":6.5,"m":6.2,"c":6.4},{"t":501,"b":4.5,"m":3.6,"c":4.2},{"t":502,"b":4.4,"m":3.5,"c":4.1},{"t":503,"b":6.2,"m":5.6,"c":5.9},{"t":504,"b":6.3,"m":5.9,"c":6.1},{"t":505,"b":5.4,"m":4.6,"c":5.1},{"t":506,"b":4.1,"m":3.3,"c":3.8},{"t":507,"b":4.4,"m":3.5,"c":4.1},{"t":508,"b":6.5,"m":6.1,"c":6.3},{"t":509,"b":6.3,"m":5.7,"c":6.0},
{"t":510,"b":4.3,"m":3.4,"c":4.0},{"t":511,"b":5.5,"m":4.7,"c":5.2},{"t":512,"b":6.1,"m":5.7,"c":5.9},{"t":513,"b":4.6,"m":3.7,"c":4.3},{"t":514,"b":4.5,"m":3.6,"c":4.2},{"t":515,"b":6.2,"m":5.7,"c":6.0},{"t":516,"b":6.4,"m":6.0,"c":6.2},{"t":517,"b":4.4,"m":3.5,"c":4.1},{"t":518,"b":4.2,"m":3.3,"c":3.9},{"t":519,"b":5.6,"m":4.8,"c":5.3},
{"t":520,"b":6.0,"m":5.6,"c":5.8},{"t":521,"b":6.2,"m":5.6,"c":5.9},{"t":522,"b":4.4,"m":3.5,"c":4.1},{"t":523,"b":4.5,"m":3.6,"c":4.2},{"t":524,"b":6.6,"m":6.3,"c":6.5},{"t":525,"b":5.7,"m":4.9,"c":5.4},{"t":526,"b":4.1,"m":3.2,"c":3.8},{"t":527,"b":6.4,"m":5.8,"c":6.1},{"t":528,"b":6.2,"m":5.8,"c":6.0},{"t":529,"b":4.5,"m":3.6,"c":4.2},
{"t":530,"b":4.3,"m":3.4,"c":4.0},{"t":531,"b":6.6,"m":6.1,"c":6.4},{"t":532,"b":6.8,"m":6.5,"c":6.7},{"t":533,"b":6.0,"m":5.2,"c":5.7},{"t":534,"b":4.5,"m":3.6,"c":4.2},{"t":535,"b":4.7,"m":3.8,"c":4.4},{"t":536,"b":7.4,"m":7.1,"c":7.4},{"t":537,"b":7.3,"m":7.0,"c":7.44},{"t":538,"b":4.2,"m":3.3,"c":3.9},{"t":539,"b":6.1,"m":5.3,"c":5.8},
{"t":540,"b":7.0,"m":6.7,"c":6.9},{"t":541,"b":4.5,"m":3.6,"c":4.2},{"t":542,"b":4.4,"m":3.5,"c":4.1},{"t":543,"b":6.3,"m":5.7,"c":6.0},{"t":544,"b":6.4,"m":6.0,"c":6.2},{"t":545,"b":5.5,"m":4.7,"c":5.2},{"t":546,"b":4.1,"m":3.2,"c":3.8},{"t":547,"b":4.4,"m":3.5,"c":4.1},{"t":548,"b":6.5,"m":6.2,"c":6.4},{"t":549,"b":6.3,"m":5.8,"c":6.1},
{"t":550,"b":4.3,"m":3.4,"c":4.0},{"t":551,"b":4.6,"m":3.7,"c":4.3},{"t":552,"b":6.1,"m":5.7,"c":5.9},{"t":553,"b":5.5,"m":4.7,"c":5.2},{"t":554,"b":4.5,"m":3.6,"c":4.2},{"t":555,"b":6.0,"m":5.5,"c":5.8},{"t":556,"b":5.9,"m":5.6,"c":5.7},{"t":557,"b":4.5,"m":3.6,"c":4.2},{"t":558,"b":4.2,"m":3.3,"c":3.9},{"t":559,"b":5.4,"m":4.6,"c":5.1},
{"t":560,"b":6.1,"m":5.8,"c":6.0},{"t":561,"b":5.9,"m":5.4,"c":5.7},{"t":562,"b":4.4,"m":3.5,"c":4.1},{"t":563,"b":4.4,"m":3.5,"c":4.1},{"t":564,"b":6.0,"m":5.6,"c":5.8},{"t":565,"b":6.1,"m":5.6,"c":5.9},{"t":566,"b":4.1,"m":3.2,"c":3.8},{"t":567,"b":5.5,"m":4.7,"c":5.2},{"t":568,"b":6.2,"m":6.0,"c":6.1},{"t":569,"b":4.6,"m":3.7,"c":4.3},
{"t":570,"b":4.3,"m":3.4,"c":4.0},{"t":571,"b":6.2,"m":6.5,"c":6.0},{"t":572,"b":6.3,"m":6.7,"c":6.2},{"t":573,"b":5.7,"m":4.9,"c":5.4},{"t":574,"b":4.5,"m":3.6,"c":4.2},{"t":575,"b":4.5,"m":3.6,"c":4.2},{"t":576,"b":6.0,"m":5.6,"c":5.8},{"t":577,"b":5.9,"m":5.4,"c":5.7},{"t":578,"b":4.2,"m":3.3,"c":3.9},{"t":579,"b":5.4,"m":4.6,"c":5.1},
{"t":580,"b":6.2,"m":5.9,"c":6.0},{"t":581,"b":4.6,"m":3.7,"c":4.3},{"t":582,"b":4.4,"m":3.5,"c":4.1},{"t":583,"b":6.3,"m":5.8,"c":6.1},{"t":584,"b":6.5,"m":6.3,"c":6.4},{"t":585,"b":4.5,"m":3.6,"c":4.2},{"t":586,"b":4.1,"m":3.2,"c":3.8},{"t":587,"b":5.9,"m":5.5,"c":5.6},{"t":588,"b":7.1,"m":7.2,"c":7.0},{"t":589,"b":7.0,"m":7.4,"c":6.8},
{"t":590,"b":4.3,"m":3.4,"c":4.0},{"t":591,"b":4.7,"m":3.8,"c":4.4},{"t":592,"b":7.7,"m":8.1,"c":7.6},{"t":593,"b":7.4,"m":7.3,"c":7.2},{"t":594,"b":4.5,"m":3.6,"c":4.2},{"t":595,"b":6.1,"m":5.3,"c":5.8},{"t":596,"b":7.5,"m":7.0,"c":7.2},{"t":597,"b":4.6,"m":3.7,"c":4.3},{"t":598,"b":4.2,"m":3.3,"c":3.9},{"t":599,"b":7.8,"m":7.1,"c":7.4},
{"t":600,"b":8.75,"m":7.9,"c":8.1},{"t":601,"b":6.5,"m":5.7,"c":6.2},{"t":602,"b":4.4,"m":3.5,"c":4.1},{"t":603,"b":4.8,"m":3.9,"c":4.5},{"t":604,"b":7.6,"m":7.1,"c":7.3},{"t":605,"b":7.2,"m":6.6,"c":6.9},{"t":606,"b":4.1,"m":3.2,"c":3.8},{"t":607,"b":5.9,"m":5.1,"c":5.6},{"t":608,"b":7.0,"m":6.6,"c":6.8},{"t":609,"b":4.6,"m":3.7,"c":4.3},
{"t":610,"b":4.3,"m":3.4,"c":4.0},{"t":611,"b":7.0,"m":6.4,"c":6.7},{"t":612,"b":7.3,"m":7.0,"c":7.1},{"t":613,"b":5.8,"m":5.0,"c":5.5},{"t":614,"b":4.5,"m":3.6,"c":4.2},{"t":615,"b":4.7,"m":3.8,"c":4.4},{"t":616,"b":6.8,"m":6.4,"c":6.6},{"t":617,"b":6.8,"m":6.2,"c":6.5},{"t":618,"b":4.2,"m":3.3,"c":3.9},{"t":619,"b":4.5,"m":3.6,"c":4.2},
{"t":620,"b":7.4,"m":7.2,"c":7.3},{"t":621,"b":6.3,"m":5.5,"c":6.0},{"t":622,"b":4.4,"m":3.5,"c":4.1},{"t":623,"b":7.2,"m":6.8,"c":7.0},{"t":624,"b":7.7,"m":7.5,"c":7.6},{"t":625,"b":4.7,"m":3.8,"c":4.4},{"t":626,"b":4.1,"m":3.2,"c":3.8},{"t":627,"b":7.8,"m":7.9,"c":7.6},{"t":628,"b":8.3,"m":8.4,"c":8.2},{"t":629,"b":6.5,"m":5.7,"c":6.2},
{"t":630,"b":4.3,"m":3.4,"c":4.0},{"t":631,"b":8.4,"m":8.8,"c":8.3},{"t":632,"b":8.9,"m":9.3,"c":8.9},{"t":633,"b":4.8,"m":3.9,"c":4.5},{"t":634,"b":4.5,"m":3.6,"c":4.2},{"t":635,"b":7.8,"m":7.2,"c":7.5},{"t":636,"b":8.2,"m":7.7,"c":7.9},{"t":637,"b":6.3,"m":5.5,"c":6.0},{"t":638,"b":4.2,"m":3.3,"c":3.9},{"t":639,"b":4.6,"m":3.7,"c":4.3},
{"t":640,"b":7.8,"m":7.2,"c":7.4},{"t":641,"b":7.6,"m":6.9,"c":7.2},{"t":642,"b":4.4,"m":3.5,"c":4.1},{"t":643,"b":6.6,"m":5.8,"c":6.3},{"t":644,"b":8.3,"m":7.9,"c":8.0},{"t":645,"b":4.7,"m":3.8,"c":4.4},{"t":646,"b":4.1,"m":3.2,"c":3.8},{"t":647,"b":8.3,"m":7.5,"c":7.8},{"t":648,"b":8.7,"m":8.1,"c":8.3},{"t":649,"b":6.8,"m":5.9,"c":6.4},
{"t":650,"b":4.3,"m":3.4,"c":4.0},{"t":651,"b":8.5,"m":7.6,"c":7.9},{"t":652,"b":8.65,"m":8.0,"c":8.2},{"t":653,"b":4.8,"m":3.9,"c":4.5},{"t":654,"b":4.5,"m":3.6,"c":4.2},{"t":655,"b":7.8,"m":7.0,"c":7.3},{"t":656,"b":8.1,"m":7.5,"c":7.7},{"t":657,"b":6.5,"m":5.6,"c":6.1},{"t":658,"b":4.2,"m":3.3,"c":3.9},{"t":659,"b":4.6,"m":3.7,"c":4.3},
{"t":660,"b":7.4,"m":6.9,"c":7.1},{"t":661,"b":7.0,"m":6.3,"c":6.6},{"t":662,"b":4.4,"m":3.5,"c":4.1},{"t":663,"b":6.0,"m":5.1,"c":5.6},{"t":664,"b":6.7,"m":6.6,"c":6.4},{"t":665,"b":4.5,"m":3.6,"c":4.2},{"t":666,"b":4.1,"m":3.2,"c":3.8},{"t":667,"b":6.6,"m":5.9,"c":6.2},{"t":668,"b":6.6,"m":5.8,"c":6.0},{"t":669,"b":6.57,"m":5.1,"c":5.6},
{"t":670,"b":5.5,"m":4.9,"c":5.2}
],
"box": [{"x1": 320, "x2": 330, "y1": 4.47, "y2": 7.33}],
"links": [
{"x1": 330, "y1": 7.33, "x2": 678, "y2": 4.41},
{"x1": 320, "y1": 7.33, "x2": 407, "y2": 4.41},
{"x1": 320, "y1": 4.47, "x2": 407, "y2": 0.75}
],
"mainlab": [{"lab": "×10", "tx": 0, "ty": 10}],
"mainexp": [{"lab": "6", "tx": 0, "ty": 10}],
"insetlab": [{"lab": "×10", "tx": 320, "ty": 7.33}],
"insetexp": [{"lab": "6", "tx": 320, "ty": 7.33}],
"insettitle": [{"lab": "zoommed", "tx": 325, "ty": 7.33}]
},
"resolve": {"scale": {"x": "independent", "y": "independent"}, "axis": {"x": "independent", "y": "independent"}},
"layer": [
{
"data": {"name": "ts"},
"layer": [
{"mark": {"type": "line", "strokeWidth": 1.2, "clip": true},
 "encoding": {
  "x": {"field": "t", "type": "quantitative", "scale": {"domain": [0, 700], "nice": false, "zero": false},
        "axis": {"orient": "bottom", "values": [0,100,200,300,400,500,600,700], "labelFlush": false, "grid": true, "gridColor": "#e0e0e0", "domainColor": "#262626", "tickColor": "#262626", "tickSize": -5, "labelFontSize": 15.5, "labelColor": "#262626", "labelPadding": 16, "title": "Time [s]", "titleFontSize": 17, "titleFontWeight": "normal", "titleColor": "#262626", "titlePadding": 6, "zindex": 1}},
  "y": {"field": "b", "type": "quantitative", "scale": {"domain": [0, 10], "nice": false},
        "axis": {"orient": "left", "values": [0,1,2,3,4,5,6,7,8,9,10], "labelFlush": false, "grid": true, "gridColor": "#e0e0e0", "domainColor": "#262626", "tickColor": "#262626", "tickSize": -5, "labelFontSize": 15.5, "labelColor": "#262626", "labelPadding": 11, "title": "My [Nm]", "titleFontSize": 17, "titleFontWeight": "normal", "titleColor": "#262626", "titlePadding": 8, "zindex": 1}},
  "color": {"datum": "Baseline", "type": "nominal",
        "scale": {"domain": ["Baseline", "Material adaptive", "Combined adaptive"], "range": ["#0072BD", "#D95319", "#EDB120"]},
        "legend": {"orient": "none", "legendX": 15, "legendY": 346, "title": null, "symbolType": "M-1,0H9", "symbolSize": 100, "symbolStrokeWidth": 1, "labelFontSize": 14.5, "labelColor": "#000000", "labelOffset": 44, "padding": 5, "fillColor": "white", "strokeColor": "#262626", "rowPadding": 4}}
 }},
{"mark": {"type": "line", "strokeWidth": 1.2, "clip": true},
 "encoding": {
  "x": {"field": "t", "type": "quantitative"},
  "y": {"field": "m", "type": "quantitative", "axis": {"orient": "left", "values": [0,1,2,3,4,5,6,7,8,9,10], "labelFlush": false, "grid": true, "gridColor": "#e0e0e0", "domainColor": "#262626", "tickColor": "#262626", "tickSize": -5, "labelFontSize": 15.5, "labelColor": "#262626", "labelPadding": 11, "title": "My [Nm]", "titleFontSize": 17, "titleFontWeight": "normal", "titleColor": "#262626", "titlePadding": 8, "zindex": 1}},
  "color": {"datum": "Material adaptive", "type": "nominal"}
 }},
{"mark": {"type": "line", "strokeWidth": 1.2, "clip": true},
 "encoding": {
  "x": {"field": "t", "type": "quantitative"},
  "y": {"field": "c", "type": "quantitative", "axis": {"orient": "left", "values": [0,1,2,3,4,5,6,7,8,9,10], "labelFlush": false, "grid": true, "gridColor": "#e0e0e0", "domainColor": "#262626", "tickColor": "#262626", "tickSize": -5, "labelFontSize": 15.5, "labelColor": "#262626", "labelPadding": 11, "title": "My [Nm]", "titleFontSize": 17, "titleFontWeight": "normal", "titleColor": "#262626", "titlePadding": 8, "zindex": 1}},
  "color": {"datum": "Combined adaptive", "type": "nominal"}
 }},
{"data": {"name": "box"},
 "mark": {"type": "rect", "fill": null, "fillOpacity": 0, "stroke": "#000000", "strokeWidth": 1, "strokeDash": [7, 5]},
 "encoding": {"x": {"field": "x1", "type": "quantitative"}, "x2": {"field": "x2"}, "y": {"field": "y1", "type": "quantitative"}, "y2": {"field": "y2"}}},
{"data": {"name": "links"},
 "mark": {"type": "rule", "stroke": "#000000", "strokeWidth": 1, "strokeDash": [7, 5]},
 "encoding": {"x": {"field": "x1", "type": "quantitative"}, "x2": {"field": "x2"}, "y": {"field": "y1", "type": "quantitative"}, "y2": {"field": "y2"}}},
{"data": {"name": "mainlab"},
 "mark": {"type": "text", "align": "left", "baseline": "alphabetic", "dx": 2, "dy": -4, "fontSize": 17, "color": "#262626"},
 "encoding": {"x": {"field": "tx", "type": "quantitative"}, "y": {"field": "ty", "type": "quantitative"}, "text": {"field": "lab"}}},
{"data": {"name": "mainexp"},
 "mark": {"type": "text", "align": "left", "baseline": "alphabetic", "dx": 32, "dy": -11, "fontSize": 11, "color": "#262626"},
 "encoding": {"x": {"field": "tx", "type": "quantitative"}, "y": {"field": "ty", "type": "quantitative"}, "text": {"field": "lab"}}}
]
},
{
"data": {"values": [{"fx": 0, "fy": 0}]},
"mark": {"type": "point", "opacity": 0},
"encoding": {
 "x": {"field": "fx", "type": "quantitative", "scale": {"domain": [0, 700], "nice": false},
       "axis": {"orient": "top", "values": [0,100,200,300,400,500,600,700], "labels": false, "grid": false, "domainColor": "#262626", "tickColor": "#262626", "tickSize": -5, "title": null, "zindex": 1}},
 "y": {"field": "fy", "type": "quantitative", "scale": {"domain": [0, 10], "nice": false},
       "axis": {"orient": "right", "values": [0,1,2,3,4,5,6,7,8,9,10], "labels": false, "grid": false, "domainColor": "#262626", "tickColor": "#262626", "tickSize": -5, "title": null, "zindex": 1}}
}
},
{
"layer": [
{"data": {"name": "box"},
 "mark": {"type": "rect", "fill": "white", "stroke": "#404040", "strokeWidth": 1},
 "encoding": {
   "x": {"field": "x1", "type": "quantitative", "scale": {"domain": [320, 330], "range": [314, 523], "nice": false, "zero": false},
       "axis": {"orient": "bottom", "offset": -32, "values": [320, 325, 330], "format": "d", "labelFlush": false, "grid": false, "domainColor": "#262626", "tickColor": "#262626", "tickSize": -4, "labelFontSize": 15.5, "labelColor": "#262626", "labelPadding": 15, "title": null, "zindex": 2}},
   "x2": {"field": "x2"},
   "y": {"field": "y1", "type": "quantitative", "scale": {"domain": [4.47, 7.33], "range": [394, 238], "nice": false, "zero": false, "clamp": true},
         "axis": {"orient": "left", "offset": -314, "values": [5, 6, 7], "format": "d", "labelFlush": false, "grid": false, "domainColor": "#262626", "tickColor": "#262626", "tickSize": -4, "labelFontSize": 15.5, "labelColor": "#262626", "labelPadding": 13, "title": null, "zindex": 2}},
   "y2": {"field": "y2"}}},
{"data": {"name": "ts"},
 "transform": [{"filter": {"field": "t", "range": [320, 330]}}],
 "mark": {"type": "line", "strokeWidth": 1, "color": "#0072BD"},
 "encoding": {"x": {"field": "t", "type": "quantitative"}, "y": {"field": "b", "type": "quantitative"}}},
{"data": {"name": "ts"},
 "transform": [{"filter": {"field": "t", "range": [320, 330]}}],
 "mark": {"type": "line", "strokeWidth": 1, "color": "#D95319"},
 "encoding": {"x": {"field": "t", "type": "quantitative"}, "y": {"field": "m", "type": "quantitative"}}},
{"data": {"name": "ts"},
 "transform": [{"filter": {"field": "t", "range": [320, 330]}}],
 "mark": {"type": "line", "strokeWidth": 1, "color": "#EDB120"},
 "encoding": {"x": {"field": "t", "type": "quantitative"}, "y": {"field": "c", "type": "quantitative"}}},
{"data": {"name": "insettitle"},
 "mark": {"type": "text", "align": "center", "baseline": "alphabetic", "dy": -7, "fontSize": 17.5, "fontWeight": "bold", "color": "#000000"},
 "encoding": {"x": {"field": "tx", "type": "quantitative"}, "y": {"field": "ty", "type": "quantitative"}, "text": {"field": "lab"}}},
{"data": {"name": "insetlab"},
 "mark": {"type": "text", "align": "left", "baseline": "alphabetic", "dx": 1, "dy": -4, "fontSize": 17, "color": "#262626"},
 "encoding": {"x": {"field": "tx", "type": "quantitative"}, "y": {"field": "ty", "type": "quantitative"}, "text": {"field": "lab"}}},
{"data": {"name": "insetexp"},
 "mark": {"type": "text", "align": "left", "baseline": "alphabetic", "dx": 31, "dy": -11, "fontSize": 11, "color": "#262626"},
 "encoding": {"x": {"field": "tx", "type": "quantitative"}, "y": {"field": "ty", "type": "quantitative"}, "text": {"field": "lab"}}}
]
}
]
}
